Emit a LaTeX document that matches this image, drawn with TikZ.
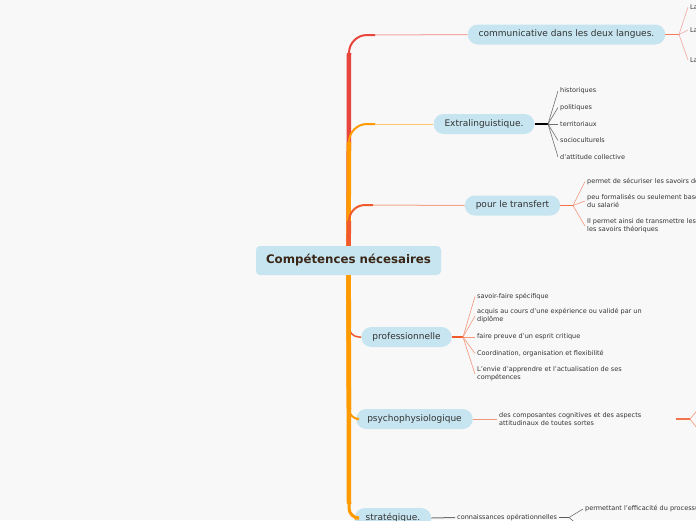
\documentclass[tikz,border=0pt]{standalone}
\usepackage{fontspec}
\setmainfont{DejaVu Sans}

\definecolor{paper}{HTML}{F8F8F8}
\definecolor{nodeblue}{HTML}{C6E5F0}
\definecolor{txtgray}{HTML}{333333}
\definecolor{rootbrown}{HTML}{3A2616}
\definecolor{brred}{HTML}{E8453C}
\definecolor{brredl}{HTML}{F4A6A2}
\definecolor{brorange}{HTML}{FF9A00}
\definecolor{brorangel}{HTML}{FFC56E}
\definecolor{brflame}{HTML}{F15A2C}
\definecolor{brflamel}{HTML}{F6A68C}
\definecolor{salmon}{HTML}{F4967A}
\definecolor{fangray}{HTML}{707070}

\tikzset{
  pill/.style={fill=nodeblue, rounded corners=10pt, minimum height=20pt,
    inner xsep=11pt, inner ysep=0pt, text=txtgray,
    font=\fontsize{9}{11}\selectfont},
  rootbox/.style={fill=nodeblue, rounded corners=4pt, minimum width=185pt,
    minimum height=29pt, text=rootbrown,
    font=\fontsize{11.8}{14}\selectfont\bfseries},
  leaf/.style={anchor=west, inner xsep=2pt, inner ysep=1pt, align=left,
    text=txtgray, font=\fontsize{6.5}{8}\selectfont},
  knot/.style={line width=1.5pt},
  fan/.style={line width=0.6pt},
}

\begin{document}
\begin{tikzpicture}[x=1pt,y=-1pt]
\useasboundingbox (0,0) rectangle (696,520);
\fill[paper] (0,0) rectangle (696,520);
\clip (0,0) rectangle (696,520);

% main branches
\node[rootbox] (root) at (348.5,260.5) {Compétences nécesaires};
\node[pill] (n1) at (566.5,34.5) {communicative dans les deux langues.};
\node[pill] (n2) at (484,124) {Extralinguistique.};
\node[pill] (n3) at (512.5,205.5) {pour le transfert};
\node[pill] (n4) at (406.5,337) {professionnelle};
\node[pill] (n5) at (414.5,419) {psychophysiologique};
\node[pill] (n6) at (393,518) {stratégique.};

\coordinate (k1) at (349,35);
\coordinate (k2) at (349,124);
\coordinate (k3) at (349,205);
\coordinate (k4) at (349,337);
\coordinate (k5) at (349,419);
\coordinate (k6) at (349,518);

% upper trunk
\draw[brred, line width=4.5pt] (root.north) -- ([yshift=-18pt]k1);
\draw[brred, line width=2pt, rounded corners=18pt] ([yshift=-22pt]k1) |- ([xshift=26pt]k1);
\draw[brredl, line width=1pt] ([xshift=26pt]k1) -- (n1.west);
\draw[brorange, line width=4.5pt] (root.north) -- ([yshift=-18pt]k2);
\draw[brorange, line width=2pt, rounded corners=18pt] ([yshift=-22pt]k2) |- ([xshift=26pt]k2);
\draw[brorangel, line width=1pt] ([xshift=26pt]k2) -- (n2.west);
\draw[brflame, line width=4.5pt] (root.north) -- ([yshift=-16pt]k3);
\draw[brflame, line width=2pt, rounded corners=16pt] ([yshift=-20pt]k3) |- ([xshift=24pt]k3);
\draw[brflamel, line width=1pt] ([xshift=24pt]k3) -- (n3.west);

% lower trunk
\draw[brflame, line width=1.5pt, rounded corners=10pt] ([yshift=16pt]k4) |- (n4.west);
\draw[brorange, line width=4.5pt] (root.south) -- ([yshift=10pt]k4);
\draw[brorange, line width=2pt, rounded corners=10pt] ([yshift=14pt]k5) |- (n5.west);
\draw[brorange, line width=4.5pt] (root.south) -- ([yshift=10pt]k5);
\draw[brorange, line width=4.5pt] (root.south) -- ([yshift=14pt]k6);
\draw[brorange, line width=3pt, rounded corners=10pt] ([yshift=18pt]k6) |- (n6.west);

% communicative
\coordinate (j1) at (679,34.5);
\node[leaf] (l11) at (688,7) {La};
\node[leaf] (l12) at (688,30) {La};
\node[leaf] (l13) at (688,60) {La};
\draw[brflame!80, knot] (n1.east) -- (j1);
\foreach \l in {l11,l12,l13}
  \draw[brredl, fan] (j1) -- (\l.west);

% extralinguistique
\coordinate (j2) at (548,124);
\node[leaf] (l21) at (558,91) {historiques};
\node[leaf] (l22) at (558,107.5) {politiques};
\node[leaf] (l23) at (558,124) {territoriaux};
\node[leaf] (l24) at (558,140.5) {socioculturels};
\node[leaf] (l25) at (558,157) {d'attitude collective};
\draw[black, knot] (n2.east) -- (j2);
\foreach \l in {l21,l22,l23,l24,l25}
  \draw[fangray, fan] (j2) -- (\l.west);

% transfert
\coordinate (j3) at (573,205.5);
\node[leaf] (l31) at (585,181.5) {permet de sécuriser les savoirs de};
\node[leaf] (l32) at (585,201) {peu formalisés ou seulement base\\du salarié};
\node[leaf] (l33) at (585,226) {Il permet ainsi de transmettre les\\les savoirs théoriques};
\draw[brflame!85, knot] (n3.east) -- (j3);
\foreach \l in {l31,l32,l33}
  \draw[salmon, fan] (j3) -- (\l.west);

% professionnelle
\coordinate (j4) at (463,337);
\node[leaf] (l41) at (475,296.5) {savoir-faire spécifique};
\node[leaf] (l42) at (475,316) {acquis au cours d'une expérience ou validé par un\\diplôme};
\node[leaf] (l43) at (475,337) {faire preuve d'un esprit critique};
\node[leaf] (l44) at (475,353.5) {Coordination, organisation et flexibilité};
\node[leaf] (l45) at (475,374) {L'envie d'apprendre et l'actualisation de ses\\compétences};
\draw[brflame, knot] (n4.east) -- (j4);
\foreach \l in {l41,l42,l43,l44,l45}
  \draw[salmon, fan] (j4) -- (\l.west);

% psychophysiologique
\coordinate (j5) at (690,419);
\coordinate (e51) at (700,407);
\coordinate (e52) at (700,432);
\node[leaf, text width=175pt] (l51) at (497,419) {des composantes cognitives et des aspects\\attitudinaux de toutes sortes};
\draw[salmon, line width=1pt] (n5.east) -- (l51.west);
\draw[brflame!85, knot] (l51.east) -- (j5);
\draw[salmon, fan] (j5) -- (e51);
\draw[salmon, fan] (j5) -- (e52);

% stratégique
\coordinate (j6) at (569,517.5);
\coordinate (e61) at (584,530);
\node[leaf] (l61) at (455,517.5) {connaissances opérationnelles};
\node[leaf] (l62) at (583,509) {permettant l'efficacité du processus};
\draw[fangray, line width=1pt] (n6.east) -- (l61.west);
\draw[fangray!80!black, knot] (l61.east) -- (j6);
\draw[fangray, fan] (j6) -- (l62.west);
\draw[fangray, fan] (j6) -- (e61);
\end{tikzpicture}
\end{document}
